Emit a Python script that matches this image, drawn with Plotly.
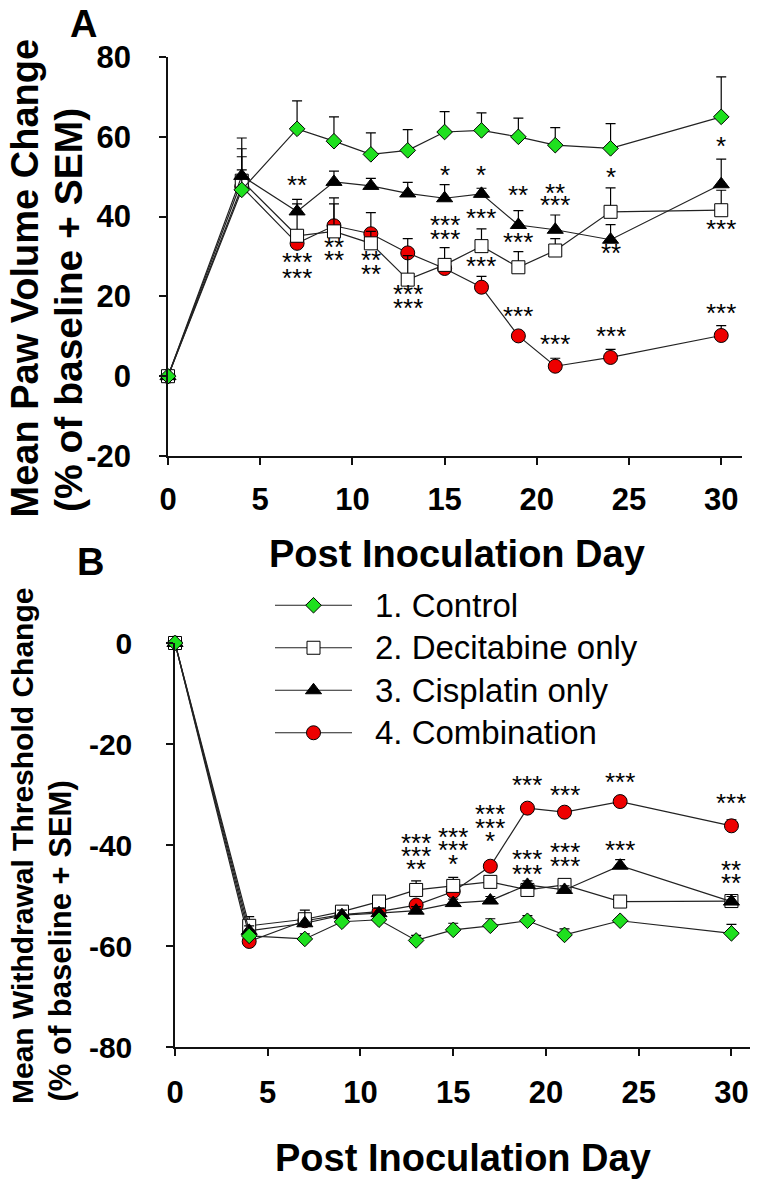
import plotly.graph_objects as go

# ---------------- DATA ----------------
days = [0, 4, 7, 9, 11, 13, 15, 17, 19, 21, 24, 30]
groups = ["1. Control", "2. Decitabine only", "3. Cisplatin only", "4. Combination"]

# Panel A: mean paw volume change (% of baseline) and +SEM
pawA_control = [0, 46.7, 62.0, 58.9, 55.6, 56.6, 61.2, 61.6, 60.0, 57.9, 57.1, 65.0]
pawA_control_sem = [0, 5.0, 7.0, 6.1, 5.4, 5.2, 5.1, 4.4, 4.7, 4.4, 6.2, 10.0]
pawA_decit = [0, 49.0, 35.2, 36.3, 33.3, 24.2, 27.9, 32.6, 27.3, 31.5, 41.2, 41.6]
pawA_decit_sem = [0, 8.0, 8.0, 8.4, 3.0, 6.0, 4.3, 4.3, 3.9, 3.0, 6.0, 5.0]
pawA_cispl = [0, 50.2, 41.3, 48.7, 47.7, 45.8, 44.6, 45.7, 37.9, 36.7, 34.2, 48.1]
pawA_cispl_sem = [0, 9.5, 3.0, 2.7, 1.9, 2.8, 3.4, 1.4, 3.6, 3.7, 3.8, 6.3]
pawA_combo = [0, 47.5, 33.3, 37.7, 35.7, 30.9, 27.0, 22.3, 10.1, 2.5, 4.7, 10.2]
pawA_combo_sem = [0, 7.5, 2.0, 5.5, 5.3, 3.6, 2.0, 2.7, 1.0, 2.0, 2.0, 2.5]

# Panel B: mean withdrawal threshold change (% of baseline) and +SEM
thrB_control = [0, -58.0, -58.6, -55.2, -54.8, -58.9, -56.8, -56.0, -55.0, -57.8, -55.0, -57.5]
thrB_control_sem = [0, 1.0, 1.0, 1.0, 1.0, 1.0, 1.3, 1.4, 1.0, 1.2, 0.5, 1.8]
thrB_decit = [0, -56.0, -54.7, -53.2, -51.2, -48.9, -48.1, -47.3, -48.9, -47.9, -51.2, -51.1]
thrB_decit_sem = [0, 1.8, 1.0, 1.0, 0.8, 1.8, 1.7, 0.8, 0.8, 0.8, 0.8, 0.8]
thrB_cispl = [0, -57.0, -55.5, -53.9, -53.5, -53.0, -51.5, -51.0, -47.9, -48.9, -44.1, -51.2]
thrB_cispl_sem = [0, 1.0, 2.6, 1.0, 1.0, 0.8, 0.8, 0.8, 0.8, 0.8, 1.2, 1.0]
thrB_combo = [0, -59.1, -55.0, -53.8, -53.2, -51.9, -49.2, -44.2, -32.7, -33.5, -31.4, -36.2]
thrB_combo_sem = [0, 0.8, 0.8, 0.8, 0.8, 0.8, 0.8, 0.8, 0.8, 0.8, 0.8, 1.2]

# Tick labels
x_ticks = [0, 5, 10, 15, 20, 25, 30]
yA_ticks = [-20, 0, 20, 40, 60, 80]
yA_ticktext = ["-20", "0", "20", "40", "60", "80"]
yB_ticks = [-80, -60, -40, -20, 0]
yB_ticktext = ["-80", "-60", "-40", "-20", "0"]

# Significance marks (day, y position, text)
sigA_day = [7, 7, 7, 9, 9, 11, 11, 13, 13, 15, 15, 15, 17, 17, 17,
            19, 19, 19, 21, 21, 21, 24, 24, 24, 30, 30, 30]
sigA_y = [48.5, 29.2, 25.0, 33.0, 29.7, 29.5, 26.2, 21.0, 17.6, 51.0, 38.3, 35.0,
          51.0, 40.2, 28.2, 45.8, 34.2, 15.7, 46.3, 43.5, 8.6, 50.5, 31.3, 10.7,
          58.3, 37.5, 16.3]
sigA_txt = ["**", "***", "***", "**", "**", "**", "**", "***", "***", "*", "***", "***",
            "*", "***", "***", "**", "***", "***", "**", "***", "***", "*", "**", "***",
            "*", "***", "***"]

sigB_day = [13, 13, 13, 15, 15, 15, 17, 17, 17, 19, 19, 19, 21, 21, 21, 24, 24, 30, 30, 30]
sigB_y = [-39.2, -41.8, -44.4, -38.0, -40.5, -43.3, -33.5, -36.2, -38.8,
          -27.7, -42.3, -45.3, -29.8, -40.9, -43.7, -27.1, -40.5, -31.2, -44.6, -47.1]
sigB_txt = ["***", "***", "**", "***", "***", "*", "***", "***", "*",
            "***", "***", "***", "***", "***", "***", "***", "***", "***", "**", "**"]

# ---------------- STYLE ----------------
FONT = "Liberation Sans, Arial, Helvetica, sans-serif"
W, H = 764, 1194

styles = {
    "1. Control": dict(symbol="diamond", size=12, color="#1ee01e"),
    "2. Decitabine only": dict(symbol="square", size=13, color="white"),
    "3. Cisplatin only": dict(symbol="triangle-up", size=14, color="black"),
    "4. Combination": dict(symbol="circle", size=14, color="#ee0000"),
}

seriesA = {
    "1. Control": (pawA_control, pawA_control_sem),
    "2. Decitabine only": (pawA_decit, pawA_decit_sem),
    "3. Cisplatin only": (pawA_cispl, pawA_cispl_sem),
    "4. Combination": (pawA_combo, pawA_combo_sem),
}
seriesB = {
    "1. Control": (thrB_control, thrB_control_sem),
    "2. Decitabine only": (thrB_decit, thrB_decit_sem),
    "3. Cisplatin only": (thrB_cispl, thrB_cispl_sem),
    "4. Combination": (thrB_combo, thrB_combo_sem),
}
draw_order = ["4. Combination", "2. Decitabine only", "3. Cisplatin only", "1. Control"]

fig = go.Figure()

for series, xa, ya in [(seriesA, "x", "y"), (seriesB, "x2", "y2")]:
    for name in draw_order:
        vals, sem = series[name]
        st = styles[name]
        fig.add_trace(go.Scatter(
            x=days, y=vals, xaxis=xa, yaxis=ya, mode="lines+markers", name=name,
            showlegend=False, cliponaxis=False,
            line=dict(color="#222222", width=1.2),
            marker=dict(symbol=st["symbol"], size=st["size"], color=st["color"],
                        line=dict(color="black", width=1)),
            error_y=dict(type="data", symmetric=False, array=sem,
                         arrayminus=[0] * len(sem), color="black", thickness=1.2, width=5),
        ))

# custom legend (line sample + marker) on its own small axis
for i, name in enumerate(groups):
    st = styles[name]
    fig.add_trace(go.Scatter(x=[0, 1], y=[i, i], xaxis="x3", yaxis="y3", mode="lines",
                             line=dict(color="#222222", width=1.2), showlegend=False,
                             hoverinfo="skip", cliponaxis=False))
    fig.add_trace(go.Scatter(x=[0.5], y=[i], xaxis="x3", yaxis="y3", mode="markers",
                             marker=dict(symbol=st["symbol"], size=st["size"], color=st["color"],
                                         line=dict(color="black", width=1)),
                             showlegend=False, hoverinfo="skip", cliponaxis=False))

def px_x(p):
    return p / W

def px_y(p):
    return 1 - p / H

axis_common = dict(showline=True, linecolor="#111111", linewidth=1.5, ticks="outside",
                   ticklen=7, tickwidth=1.5, tickcolor="#111111", showgrid=False,
                   zeroline=False, color="black", automargin=False)

fig.update_layout(
    width=W, height=H, margin=dict(l=0, r=0, t=0, b=0, autoexpand=False),
    paper_bgcolor="white", plot_bgcolor="white",
    font=dict(family=FONT, color="black"),
    xaxis=dict(domain=[px_x(168), px_x(741.5)], range=[0, 31.1], tickvals=x_ticks,
               anchor="y", tickfont=dict(size=31, weight="bold"), ticklabelstandoff=8, **axis_common),
    yaxis=dict(domain=[px_y(456), px_y(57)], range=[-20, 80], tickvals=yA_ticks, ticktext=yA_ticktext,
               anchor="x", tickfont=dict(size=31, weight="bold"), ticklabelstandoff=22, **axis_common),
    xaxis2=dict(domain=[px_x(175), px_x(750)], range=[0, 31], tickvals=x_ticks,
                anchor="y2", tickfont=dict(size=31, weight="bold"), ticklabelstandoff=10, **axis_common),
    yaxis2=dict(domain=[px_y(1047), px_y(643)], range=[-80, 0], tickvals=yB_ticks, ticktext=yB_ticktext,
                anchor="x2", tickfont=dict(size=30, weight="bold"), ticklabelstandoff=28, **axis_common),
    xaxis3=dict(domain=[px_x(275), px_x(352)], range=[0, 1], visible=False, anchor="y3"),
    yaxis3=dict(domain=[px_y(754), px_y(584)], range=[3.5, -0.5], visible=False, anchor="x3"),
)

ann = []
# significance marks
for d, yv, t in zip(sigA_day, sigA_y, sigA_txt):
    ann.append(dict(x=d, y=yv, xref="x", yref="y", text=t, showarrow=False,
                    font=dict(size=26, family=FONT), yshift=-2))
for d, yv, t in zip(sigB_day, sigB_y, sigB_txt):
    ann.append(dict(x=d, y=yv, xref="x2", yref="y2", text=t, showarrow=False,
                    font=dict(size=26, family=FONT), yshift=-2))
# legend labels
for i, name in enumerate(groups):
    ann.append(dict(x=px_x(373), y=i, xref="paper", yref="y3", text=name, showarrow=False,
                    xanchor="left", yanchor="middle", font=dict(size=33, family=FONT)))
# axis titles
ann += [
    dict(x=px_x(24), y=px_y(520), xref="paper", yref="paper", text="Mean Paw Volume Change",
         textangle=-90, showarrow=False, xanchor="center", yanchor="bottom",
         font=dict(size=38, weight="bold")),
    dict(x=px_x(68), y=px_y(514), xref="paper", yref="paper", text="(% of baseline + SEM)",
         textangle=-90, showarrow=False, xanchor="center", yanchor="bottom",
         font=dict(size=39, weight="bold")),
    dict(x=px_x(22), y=px_y(1106), xref="paper", yref="paper", text="Mean Withdrawal Threshold Change",
         textangle=-90, showarrow=False, xanchor="center", yanchor="bottom",
         font=dict(size=30, weight="bold")),
    dict(x=px_x(60), y=px_y(1104), xref="paper", yref="paper", text="(% of baseline + SEM)",
         textangle=-90, showarrow=False, xanchor="center", yanchor="bottom",
         font=dict(size=31, weight="bold")),
    dict(x=px_x(267), y=px_y(554), xref="paper", yref="paper", text="Post Inoculation Day",
         showarrow=False, xanchor="left", yanchor="middle", font=dict(size=38, weight="bold")),
    dict(x=px_x(273), y=px_y(1158), xref="paper", yref="paper", text="Post Inoculation Day",
         showarrow=False, xanchor="left", yanchor="middle", font=dict(size=38, weight="bold")),
    dict(x=px_x(83), y=px_y(24), xref="paper", yref="paper", text="A",
         showarrow=False, xanchor="center", yanchor="middle", font=dict(size=38, weight="bold")),
    dict(x=px_x(90), y=px_y(562), xref="paper", yref="paper", text="B",
         showarrow=False, xanchor="center", yanchor="middle", font=dict(size=38, weight="bold")),
]
fig.update_layout(annotations=ann)

# remove the browser's default page margin so the figure sits at the window origin
fig.write_html("out.html", config={"displayModeBar": False},
               post_script="document.body.style.margin='0';")
